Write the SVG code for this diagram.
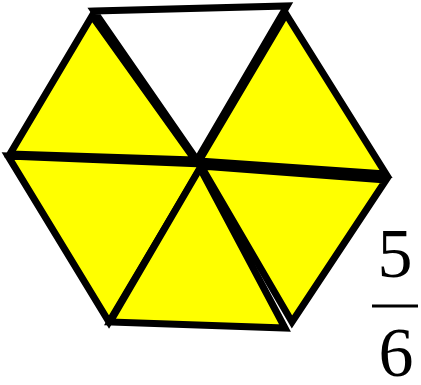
<svg xmlns="http://www.w3.org/2000/svg" width="421" height="385" viewBox="0 0 421 385">
<style>
.t{stroke:#000;stroke-width:7;stroke-linejoin:miter;stroke-miterlimit:10}
.y{fill:#ffff00}
.w{fill:#fff}
.num{font-family:"Liberation Serif",serif;font-size:70px;fill:#000;text-anchor:middle}
</style>
<rect width="421" height="385" fill="#fff"/>
<g id="tri-top"><polygon class="t w" points="94,11 287,6 197,160"/></g>
<g id="tri-upper-left"><polygon class="t y" points="92,16 10,154 195,160"/></g>
<g id="tri-upper-right"><polygon class="t y" points="286,14 386,174 199,161"/></g>
<g id="tri-lower-left"><polygon class="t y" points="8,156 203,164 109,322"/></g>
<g id="tri-bottom"><polygon class="t y" points="200,168 110,322 285,328"/></g>
<g id="tri-lower-right"><polygon class="t y" points="201,166 386,180 292,322"/></g>
<g id="fraction">
<text class="num" x="395" y="277">5</text>
<line x1="372" y1="306" x2="418" y2="306" stroke="#000" stroke-width="3"/>
<text class="num" x="396" y="376">6</text>
</g>
</svg>
